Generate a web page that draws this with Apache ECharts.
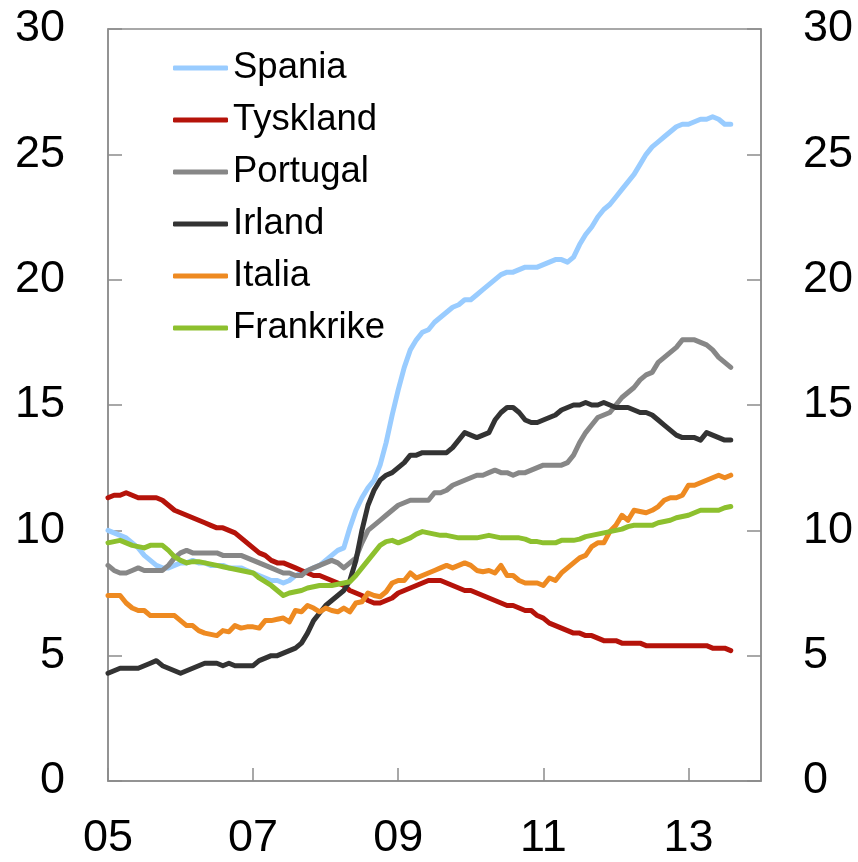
<!DOCTYPE html>
<html>
<head>
<meta charset="utf-8">
<script src="https://cdn.jsdelivr.net/npm/echarts@6/dist/echarts.min.js"></script>
<style>
html,body{margin:0;padding:0;background:#fff;}
#chart{width:858px;height:862px;}
</style>
</head>
<body>
<div id="chart"></div>
<script>
// Monthly data, Jan 2005 - Aug 2013 (unemployment rate, %)
var seriesNames = ['Spania', 'Tyskland', 'Portugal', 'Irland', 'Italia', 'Frankrike'];
var tickLabels = ['05', '07', '09', '11', '13'];

var spania = [10.0,9.9,9.8,9.7,9.5,9.3,9.0,8.8,8.6,8.5,8.5,8.6,8.7,8.7,8.8,8.7,8.7,8.6,8.6,8.6,8.5,8.5,8.5,8.4,
  8.3,8.2,8.1,8.0,8.0,7.9,8.0,8.2,8.3,8.4,8.5,8.6,8.8,9.0,9.2,9.3,10.1,10.8,11.3,11.7,12.0,12.6,13.5,14.6,
  15.6,16.5,17.2,17.6,17.9,18.0,18.3,18.5,18.7,18.9,19.0,19.2,19.2,19.4,19.6,19.8,20.0,20.2,20.3,20.3,20.4,20.5,20.5,20.5,
  20.6,20.7,20.8,20.8,20.7,20.9,21.4,21.8,22.1,22.5,22.8,23.0,23.3,23.6,23.9,24.2,24.6,25.0,25.3,25.5,25.7,25.9,26.1,26.2,
  26.2,26.3,26.4,26.4,26.5,26.4,26.2,26.2];
var tyskland = [11.3,11.4,11.4,11.5,11.4,11.3,11.3,11.3,11.3,11.2,11.0,10.8,10.7,10.6,10.5,10.4,10.3,10.2,10.1,10.1,10.0,9.9,9.7,9.5,
  9.3,9.1,9.0,8.8,8.7,8.7,8.6,8.5,8.4,8.3,8.2,8.2,8.1,8.0,7.9,7.8,7.6,7.5,7.4,7.2,7.1,7.1,7.2,7.3,
  7.5,7.6,7.7,7.8,7.9,8.0,8.0,8.0,7.9,7.8,7.7,7.6,7.6,7.5,7.4,7.3,7.2,7.1,7.0,7.0,6.9,6.8,6.8,6.6,
  6.5,6.3,6.2,6.1,6.0,5.9,5.9,5.8,5.8,5.7,5.6,5.6,5.6,5.5,5.5,5.5,5.5,5.4,5.4,5.4,5.4,5.4,5.4,5.4,
  5.4,5.4,5.4,5.4,5.3,5.3,5.3,5.2];
var portugal = [8.6,8.4,8.3,8.3,8.4,8.5,8.4,8.4,8.4,8.4,8.6,8.9,9.1,9.2,9.1,9.1,9.1,9.1,9.1,9.0,9.0,9.0,9.0,8.9,
  8.8,8.7,8.6,8.5,8.4,8.3,8.3,8.2,8.2,8.4,8.5,8.6,8.7,8.8,8.7,8.5,8.7,8.9,9.5,10.0,10.2,10.4,10.6,10.8,
  11.0,11.1,11.2,11.2,11.2,11.2,11.5,11.5,11.6,11.8,11.9,12.0,12.1,12.2,12.2,12.3,12.4,12.3,12.3,12.2,12.3,12.3,12.4,12.5,
  12.6,12.6,12.6,12.6,12.7,13.0,13.5,13.9,14.2,14.5,14.6,14.7,15.0,15.3,15.5,15.7,16.0,16.2,16.3,16.7,16.9,17.1,17.3,17.6,
  17.6,17.6,17.5,17.4,17.2,16.9,16.7,16.5];
var irland = [4.3,4.4,4.5,4.5,4.5,4.5,4.6,4.7,4.8,4.6,4.5,4.4,4.3,4.4,4.5,4.6,4.7,4.7,4.7,4.6,4.7,4.6,4.6,4.6,
  4.6,4.8,4.9,5.0,5.0,5.1,5.2,5.3,5.5,5.9,6.4,6.7,7.0,7.2,7.4,7.6,8.0,8.8,10.0,11.0,11.6,12.0,12.2,12.3,
  12.5,12.7,13.0,13.0,13.1,13.1,13.1,13.1,13.1,13.3,13.6,13.9,13.8,13.7,13.8,13.9,14.4,14.7,14.9,14.9,14.7,14.4,14.3,14.3,
  14.4,14.5,14.6,14.8,14.9,15.0,15.0,15.1,15.0,15.0,15.1,15.0,14.9,14.9,14.9,14.8,14.7,14.7,14.6,14.4,14.2,14.0,13.8,13.7,
  13.7,13.7,13.6,13.9,13.8,13.7,13.6,13.6];
var italia = [7.4,7.4,7.4,7.1,6.9,6.8,6.8,6.6,6.6,6.6,6.6,6.6,6.4,6.2,6.2,6.0,5.9,5.85,5.8,6.0,5.95,6.2,6.1,6.15,
  6.15,6.1,6.4,6.4,6.45,6.5,6.35,6.8,6.75,7.0,6.9,6.75,6.9,6.8,6.75,6.9,6.75,7.1,7.15,7.5,7.4,7.35,7.55,7.9,
  8.0,8.0,8.3,8.1,8.2,8.3,8.4,8.5,8.6,8.5,8.6,8.7,8.6,8.4,8.35,8.4,8.3,8.6,8.2,8.2,8.0,7.9,7.9,7.9,
  7.8,8.1,8.0,8.3,8.5,8.7,8.9,9.0,9.35,9.5,9.5,9.95,10.2,10.6,10.4,10.8,10.75,10.7,10.8,10.95,11.2,11.3,11.3,11.4,
  11.8,11.8,11.9,12.0,12.1,12.2,12.1,12.2];
var frankrike = [9.5,9.55,9.6,9.5,9.4,9.35,9.3,9.4,9.4,9.4,9.2,8.95,8.8,8.7,8.75,8.75,8.7,8.65,8.6,8.55,8.5,8.45,8.4,8.35,
  8.3,8.1,7.95,7.8,7.6,7.4,7.5,7.55,7.6,7.7,7.75,7.8,7.8,7.8,7.85,7.9,7.95,8.2,8.5,8.8,9.1,9.4,9.55,9.6,
  9.5,9.6,9.7,9.85,9.95,9.9,9.85,9.8,9.8,9.75,9.7,9.7,9.7,9.7,9.75,9.8,9.75,9.7,9.7,9.7,9.7,9.65,9.55,9.55,
  9.5,9.5,9.5,9.6,9.6,9.6,9.65,9.75,9.8,9.85,9.9,9.95,10.0,10.05,10.15,10.2,10.2,10.2,10.2,10.3,10.35,10.4,10.5,10.55,
  10.6,10.7,10.8,10.8,10.8,10.8,10.9,10.95];

var colors = ['#99CCFF', '#B5130A', '#878787', '#333333', '#EE8A21', '#8DC02E'];
var seriesData = [spania, tyskland, portugal, irland, italia, frankrike];

// Month categories Jan 2005 .. Jan 2014
var months = [];
for (var y = 2005; y <= 2014; y++) {
  for (var m = 1; m <= 12; m++) {
    months.push(y + '-' + (m < 10 ? '0' + m : m));
    if (y === 2014) break;
  }
}

var font = 'Arial, "Liberation Sans", sans-serif';
var axisColor = '#8C8C8C';

var chart = echarts.init(document.getElementById('chart'), null, {renderer: 'canvas'});

var series = seriesNames.map(function (name, k) {
  return {
    name: name,
    type: 'line',
    data: seriesData[k],
    symbol: 'none',
    smooth: false,
    lineStyle: {color: colors[k], width: 5, cap: 'round', join: 'round'},
    itemStyle: {color: colors[k]},
    animation: false
  };
});

function isTick(idx) { return idx % 24 === 0 && idx < 108; }

chart.setOption({
  animation: false,
  backgroundColor: '#ffffff',
  grid: {
    left: 108, right: 97, top: 29, bottom: 81,
    show: true, borderColor: axisColor, borderWidth: 1.5, backgroundColor: 'transparent'
  },
  legend: {
    orient: 'vertical',
    left: 173,
    top: 42,
    padding: 0,
    itemWidth: 55,
    itemHeight: 5,
    itemGap: 0,
    icon: 'roundRect',
    data: seriesNames,
    textStyle: {fontFamily: font, fontSize: 36.5, color: '#000', lineHeight: 52}
  },
  xAxis: {
    type: 'category',
    data: months,
    boundaryGap: false,
    axisLine: {lineStyle: {color: axisColor, width: 1.5}},
    axisTick: {show: true, inside: true, length: 13, interval: function (idx) { return isTick(idx); },
      lineStyle: {color: axisColor, width: 1.5}},
    axisLabel: {
      interval: function (idx) { return isTick(idx); },
      formatter: function (val, idx) { return tickLabels[idx / 24]; },
      fontFamily: font, fontSize: 45, color: '#000', margin: 35
    },
    splitLine: {show: false}
  },
  yAxis: [
    {
      type: 'value', min: 0, max: 30, interval: 5, position: 'left',
      axisLine: {show: true, lineStyle: {color: axisColor, width: 1.5}},
      axisTick: {show: true, inside: true, length: 14, lineStyle: {color: axisColor, width: 1.5}},
      axisLabel: {fontFamily: font, fontSize: 45, color: '#000', margin: 43},
      splitLine: {show: false}
    },
    {
      type: 'value', min: 0, max: 30, interval: 5, position: 'right',
      axisLine: {show: true, lineStyle: {color: axisColor, width: 1.5}},
      axisTick: {show: true, inside: true, length: 14, lineStyle: {color: axisColor, width: 1.5}},
      axisLabel: {fontFamily: font, fontSize: 45, color: '#000', margin: 42},
      splitLine: {show: false}
    }
  ],
  series: series
});
</script>
</body>
</html>
